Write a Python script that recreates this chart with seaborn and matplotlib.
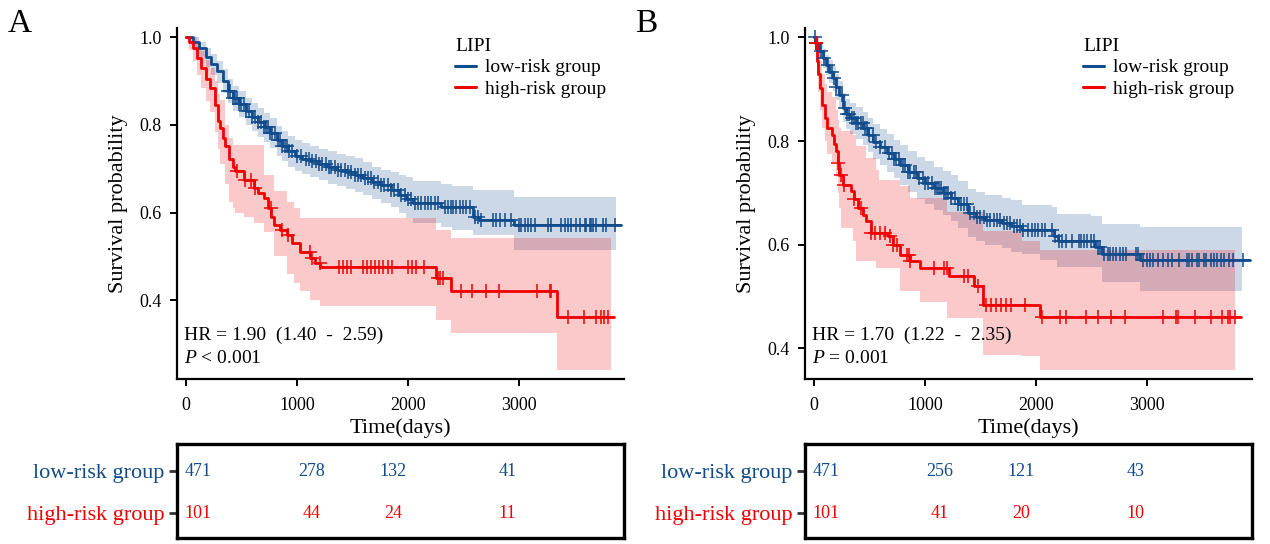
import numpy as np
import matplotlib
matplotlib.use("Agg")
import matplotlib.pyplot as plt
import seaborn as sns

# ---- data ----
group_names = ["low-risk group", "high-risk group"]

# panel A, low-risk curve
a_low_t = [0, 60, 120, 180, 230, 280, 330, 380, 420, 480, 540, 600, 650, 700, 760, 820, 870, 920,
           980, 1050, 1120, 1200, 1280, 1360, 1440, 1520, 1600, 1680, 1760, 1850, 1920, 1980, 2050,
           2300, 2590, 2640, 2960, 3925]
a_low_s = [1.0, 0.99, 0.975, 0.955, 0.94, 0.922, 0.9, 0.878, 0.862, 0.848, 0.832, 0.818, 0.806, 0.795,
           0.782, 0.765, 0.752, 0.74, 0.73, 0.722, 0.717, 0.71, 0.703, 0.697, 0.692, 0.686, 0.678, 0.67,
           0.663, 0.652, 0.64, 0.632, 0.621, 0.613, 0.59, 0.583, 0.571, 0.571]
a_low_band_t = [0, 60, 120, 180, 230, 280, 330, 380, 420, 480, 540, 600, 650, 700, 760, 820, 870, 920,
                980, 1050, 1120, 1200, 1280, 1360, 1440, 1520, 1600, 1680, 1760, 1850, 1920, 1980, 2050,
                2300, 2400, 2590, 2960, 3880]
a_low_lo = [1.0, 0.975, 0.955, 0.932, 0.915, 0.895, 0.872, 0.849, 0.832, 0.818, 0.8, 0.786, 0.773, 0.762,
            0.748, 0.73, 0.718, 0.705, 0.695, 0.687, 0.681, 0.674, 0.666, 0.66, 0.654, 0.648, 0.64, 0.63,
            0.622, 0.612, 0.598, 0.587, 0.576, 0.568, 0.56, 0.549, 0.514, 0.514]
a_low_hi = [1.0, 1.0, 0.99, 0.975, 0.962, 0.947, 0.927, 0.905, 0.89, 0.877, 0.862, 0.849, 0.838, 0.828,
            0.815, 0.798, 0.786, 0.775, 0.766, 0.758, 0.752, 0.746, 0.74, 0.734, 0.729, 0.724, 0.716, 0.705,
            0.698, 0.692, 0.686, 0.682, 0.672, 0.665, 0.66, 0.651, 0.636, 0.636]
a_low_cens = [380, 400, 420, 440, 460, 480, 500, 520, 545, 570, 600, 620, 650, 680, 700, 720, 740, 760,
              780, 800, 830, 850, 870, 890, 910, 930, 960, 1000, 1040, 1080, 1110, 1140, 1170, 1200, 1230,
              1260, 1290, 1310, 1340, 1370, 1400, 1430, 1460, 1490, 1520, 1550, 1580, 1610, 1640, 1670,
              1700, 1730, 1760, 1790, 1820, 1850, 1880, 1910, 1943, 1973, 2003, 2033, 2063, 2093, 2123,
              2153, 2183, 2213, 2243, 2273, 2333, 2363, 2393, 2408, 2438, 2468, 2498, 2528, 2558, 2604,
              2634, 2664, 2769, 2799, 2829, 2874, 2934, 3000, 3024, 3054, 3084, 3114, 3144, 3264, 3294,
              3384, 3414, 3444, 3474, 3519, 3549, 3594, 3609, 3640, 3655, 3670, 3700, 3760, 3790, 3865]

# panel A, high-risk curve
a_high_t = [0, 30, 60, 99, 140, 180, 219, 260, 290, 309, 330, 354, 390, 420, 444, 520, 610, 650, 700,
            740, 770, 790, 850, 910, 960, 1030, 1120, 1160, 1210, 2258, 2393, 3345, 3860]
a_high_s = [1.0, 0.99, 0.975, 0.953, 0.93, 0.905, 0.884, 0.845, 0.81, 0.793, 0.77, 0.751, 0.722, 0.705,
            0.694, 0.675, 0.656, 0.645, 0.633, 0.61, 0.59, 0.572, 0.56, 0.549, 0.53, 0.511, 0.496, 0.485,
            0.475, 0.451, 0.421, 0.362, 0.362]
a_high_band_t = [0, 30, 60, 99, 140, 180, 219, 260, 290, 309, 354, 390, 420, 444, 520, 610, 700, 790,
                 910, 970, 1030, 1120, 1210, 2258, 2393, 3345, 3830]
a_high_lo = [1.0, 0.97, 0.945, 0.915, 0.885, 0.855, 0.83, 0.785, 0.745, 0.71, 0.665, 0.625, 0.61, 0.6,
             0.59, 0.575, 0.555, 0.5, 0.46, 0.44, 0.42, 0.4, 0.386, 0.354, 0.324, 0.24, 0.24]
a_high_hi = [1.0, 1.0, 1.0, 0.985, 0.968, 0.948, 0.93, 0.9, 0.87, 0.856, 0.8, 0.77, 0.755, 0.755, 0.755,
             0.755, 0.686, 0.65, 0.625, 0.61, 0.587, 0.587, 0.587, 0.56, 0.541, 0.541, 0.541]
a_high_cens = [459, 531, 585, 621, 766, 862, 917, 1117, 1140, 1207, 1378, 1414, 1450, 1486, 1595, 1631,
               1667, 1707, 1744, 1781, 1818, 1854, 2000, 2036, 2072, 2149, 2273, 2288, 2318, 2483, 2583,
               2708, 2822, 3165, 3279, 3294, 3444, 3586, 3700, 3745, 3766, 3805]

# panel B, low-risk curve
b_low_t = [0, 20, 46, 80, 107, 140, 168, 200, 229, 259, 290, 321, 380, 443, 490, 535, 600, 657, 720, 778,
           850, 930, 1000, 1083, 1160, 1235, 1300, 1387, 1460, 1540, 1692, 1780, 1875, 2160, 2200, 2530,
           2600, 2940, 3927]
b_low_s = [1.0, 0.99, 0.973, 0.96, 0.947, 0.934, 0.921, 0.905, 0.889, 0.864, 0.852, 0.844, 0.835, 0.825,
           0.812, 0.799, 0.788, 0.777, 0.765, 0.754, 0.741, 0.729, 0.72, 0.709, 0.7, 0.69, 0.678, 0.661,
           0.654, 0.648, 0.642, 0.636, 0.628, 0.617, 0.608, 0.596, 0.583, 0.57, 0.57]
b_low_band_t = [0, 20, 46, 80, 107, 140, 168, 200, 229, 259, 290, 321, 380, 443, 490, 535, 600, 657, 720,
                778, 850, 930, 1000, 1083, 1160, 1235, 1300, 1387, 1460, 1540, 1692, 1780, 1875, 2040,
                2146, 2190, 2500, 2600, 2940, 3863]
b_low_lo = [1.0, 0.98, 0.958, 0.942, 0.927, 0.912, 0.897, 0.88, 0.862, 0.836, 0.823, 0.814, 0.804, 0.793,
            0.779, 0.765, 0.753, 0.741, 0.728, 0.716, 0.702, 0.689, 0.679, 0.667, 0.657, 0.646, 0.633,
            0.615, 0.607, 0.6, 0.593, 0.586, 0.583, 0.571, 0.571, 0.558, 0.558, 0.529, 0.511, 0.511]
b_low_hi = [1.0, 1.0, 0.988, 0.978, 0.967, 0.956, 0.945, 0.93, 0.916, 0.892, 0.881, 0.874, 0.866, 0.857,
            0.845, 0.833, 0.823, 0.813, 0.802, 0.792, 0.78, 0.769, 0.761, 0.751, 0.743, 0.734, 0.723,
            0.707, 0.701, 0.696, 0.691, 0.686, 0.677, 0.677, 0.672, 0.66, 0.655, 0.641, 0.634, 0.634]
b_low_cens = [10, 20, 60, 90, 130, 160, 180, 200, 250, 280, 300, 320, 340, 360, 380, 400, 420, 440, 460,
              480, 500, 530, 560, 600, 640, 680, 700, 720, 740, 770, 800, 820, 850, 870, 900, 920, 950,
              980, 1000, 1030, 1060, 1090, 1110, 1130, 1150, 1170, 1190, 1210, 1240, 1270, 1300, 1330,
              1350, 1380, 1410, 1440, 1470, 1500, 1530, 1560, 1590, 1620, 1650, 1680, 1710, 1740, 1770,
              1800, 1830, 1860, 1887, 1933, 1963, 1994, 2024, 2055, 2085, 2146, 2177, 2207, 2237, 2268,
              2329, 2390, 2405, 2435, 2466, 2496, 2527, 2557, 2578, 2618, 2648, 2670, 2694, 2725, 2755,
              2785, 2816, 2907, 2922, 2968, 3000, 3029, 3059, 3105, 3151, 3196, 3227, 3288, 3364, 3379,
              3409, 3455, 3470, 3516, 3531, 3577, 3607, 3638, 3668, 3699, 3744, 3775, 3866]

# panel B, high-risk curve
b_high_t = [0, 10, 25, 40, 55, 76, 100, 122, 167, 185, 198, 213, 228, 259, 335, 365, 396, 440, 472, 518,
            670, 716, 777, 868, 959, 1217, 1446, 1522, 2039, 3850]
b_high_s = [1.0, 0.99, 0.955, 0.93, 0.902, 0.87, 0.845, 0.825, 0.812, 0.795, 0.78, 0.758, 0.735, 0.716,
            0.703, 0.688, 0.671, 0.658, 0.645, 0.623, 0.616, 0.6, 0.581, 0.568, 0.555, 0.539, 0.52, 0.484,
            0.461, 0.461]
b_high_band_t = [0, 10, 25, 40, 55, 76, 100, 122, 167, 198, 213, 228, 243, 348, 380, 470, 560, 591, 777,
                 868, 959, 1202, 1522, 1875, 2039, 3800]
b_high_lo = [1.0, 0.975, 0.925, 0.895, 0.86, 0.825, 0.8, 0.775, 0.76, 0.73, 0.7, 0.67, 0.632, 0.607,
             0.568, 0.568, 0.555, 0.555, 0.51, 0.51, 0.49, 0.459, 0.388, 0.385, 0.358, 0.358]
b_high_hi = [1.0, 1.0, 0.99, 0.975, 0.955, 0.93, 0.91, 0.895, 0.885, 0.86, 0.84, 0.825, 0.82, 0.812,
             0.79, 0.767, 0.745, 0.725, 0.713, 0.69, 0.69, 0.664, 0.626, 0.607, 0.59, 0.59]
b_high_cens = [15, 20, 213, 243, 274, 365, 426, 518, 548, 594, 640, 685, 716, 746, 837, 853, 868, 1080,
               1172, 1202, 1355, 1385, 1477, 1553, 1598, 1644, 1690, 1735, 1781, 1903, 2054, 2222, 2268,
               2451, 2557, 2679, 2806, 3151, 3266, 3279, 3431, 3577, 3683, 3729, 3753, 3796]

# numbers at risk
risk_cols = [110, 1130, 1865, 2900]
a_risk_low = [471, 278, 132, 41]
a_risk_high = [101, 44, 24, 11]
b_risk_low = [471, 256, 121, 43]
b_risk_high = [101, 41, 20, 10]

a_hr_text = "HR = 1.90  (1.40  -  2.59)"
a_p_text = r"$\mathit{P}$ < 0.001"
b_hr_text = "HR = 1.70  (1.22  -  2.35)"
b_p_text = r"$\mathit{P}$ = 0.001"

# ---- style ----
sns.set_theme(style="white")
plt.rcParams["font.family"] = ["Liberation Serif", "DejaVu Serif"]
plt.rcParams["mathtext.fontset"] = "custom"
plt.rcParams["mathtext.rm"] = "Liberation Serif"
plt.rcParams["mathtext.it"] = "Liberation Serif:italic"
plt.rcParams["text.color"] = "black"
plt.rcParams["axes.labelcolor"] = "black"

BLUE = "#104B8C"
RED = "#F00000"
colors = [BLUE, RED]


def step_value(times, surv, t):
    i = np.searchsorted(times, t, side="right") - 1
    return surv[max(i, 0)]


def draw_curve(ax, times, surv, band_t, lo, hi, cens, color, label):
    ax.fill_between(band_t, lo, hi, step="post", color=color, alpha=0.21, linewidth=0)
    sns.lineplot(x=times, y=surv, ax=ax, color=color, linewidth=2.0, drawstyle="steps-post",
                 estimator=None, sort=False, label=label)
    cy = [step_value(times, surv, t) for t in cens]
    sns.scatterplot(x=cens, y=cy, ax=ax, marker="+", s=90, color=color, linewidth=1.1,
                    legend=False, zorder=4)


def draw_panel(fig, left, letter, curves, ylim, hr_text, p_text, risk_low, risk_high):
    ax = fig.add_axes([left, 0.3033, 0.352, 0.645])
    for (times, surv, bt, lo, hi, cens), color, name in zip(curves, colors, group_names):
        draw_curve(ax, times, surv, bt, lo, hi, cens, color, name)

    ax.set_xlim(-80, 3950)
    ax.set_ylim(*ylim)
    ax.set_xticks([0, 1000, 2000, 3000])
    ax.set_yticks([0.4, 0.6, 0.8, 1.0])
    ax.set_yticklabels(["0.4", "0.6", "0.8", "1.0"])
    for side in ["top", "right"]:
        ax.spines[side].set_visible(False)
    for side in ["left", "bottom"]:
        ax.spines[side].set_color("black")
        ax.spines[side].set_linewidth(1.6)
    ax.tick_params(axis="both", direction="out", length=5, width=1.4, color="black",
                   labelsize=13, labelcolor="black", bottom=True, left=True)
    ax.tick_params(axis="x", pad=8)
    ax.tick_params(axis="y", pad=6)
    ax.set_xlabel("Time(days)", fontsize=16, labelpad=3)
    ax.set_ylabel("Survival probability", fontsize=16, labelpad=8)

    leg = ax.legend(title="LIPI", loc="upper left", bbox_to_anchor=(0.6, 1.0), frameon=False,
                    fontsize=14, title_fontsize=14, handlelength=1.1, handletextpad=0.45,
                    labelspacing=0.2, borderpad=0, alignment="left")
    for line in leg.get_lines():
        line.set_linewidth(2.2)

    ax.text(0.016, 0.125, hr_text, transform=ax.transAxes, fontsize=14, va="center", ha="left")
    ax.text(0.016, 0.058, p_text, transform=ax.transAxes, fontsize=14, va="center", ha="left")

    fig.text(left - 0.1335, 0.985, letter, fontsize=24, va="top", ha="left")

    # risk table
    tab = fig.add_axes([left, 0.011, 0.352, 0.1728])
    tab.set_xlim(-80, 3950)
    tab.set_ylim(-0.595, 1.643)
    for x, n_low, n_high in zip(risk_cols, risk_low, risk_high):
        tab.text(x, 1, str(n_low), color=BLUE, fontsize=13, ha="center", va="center")
        tab.text(x, 0, str(n_high), color=RED, fontsize=13, ha="center", va="center")
    tab.set_xticks([])
    tab.set_yticks([1, 0])
    tab.set_yticklabels(group_names, fontsize=16)
    for lab, color in zip(tab.get_yticklabels(), colors):
        lab.set_color(color)
    tab.tick_params(axis="y", direction="out", length=6, width=2, color="#333333", pad=3, left=True)
    for side in tab.spines.values():
        side.set_visible(True)
        side.set_color("black")
        side.set_linewidth(2.4)
    return ax


fig = plt.figure(figsize=(12.7, 5.44), dpi=100)

curves_a = [
    (a_low_t, a_low_s, a_low_band_t, a_low_lo, a_low_hi, a_low_cens),
    (a_high_t, a_high_s, a_high_band_t, a_high_lo, a_high_hi, a_high_cens),
]
curves_b = [
    (b_low_t, b_low_s, b_low_band_t, b_low_lo, b_low_hi, b_low_cens),
    (b_high_t, b_high_s, b_high_band_t, b_high_lo, b_high_hi, b_high_cens),
]

draw_panel(fig, 0.1394, "A", curves_a, (0.22, 1.021), a_hr_text, a_p_text, a_risk_low, a_risk_high)
draw_panel(fig, 0.6339, "B", curves_b, (0.341, 1.018), b_hr_text, b_p_text, b_risk_low, b_risk_high)

fig.savefig("out.png", dpi=100)
